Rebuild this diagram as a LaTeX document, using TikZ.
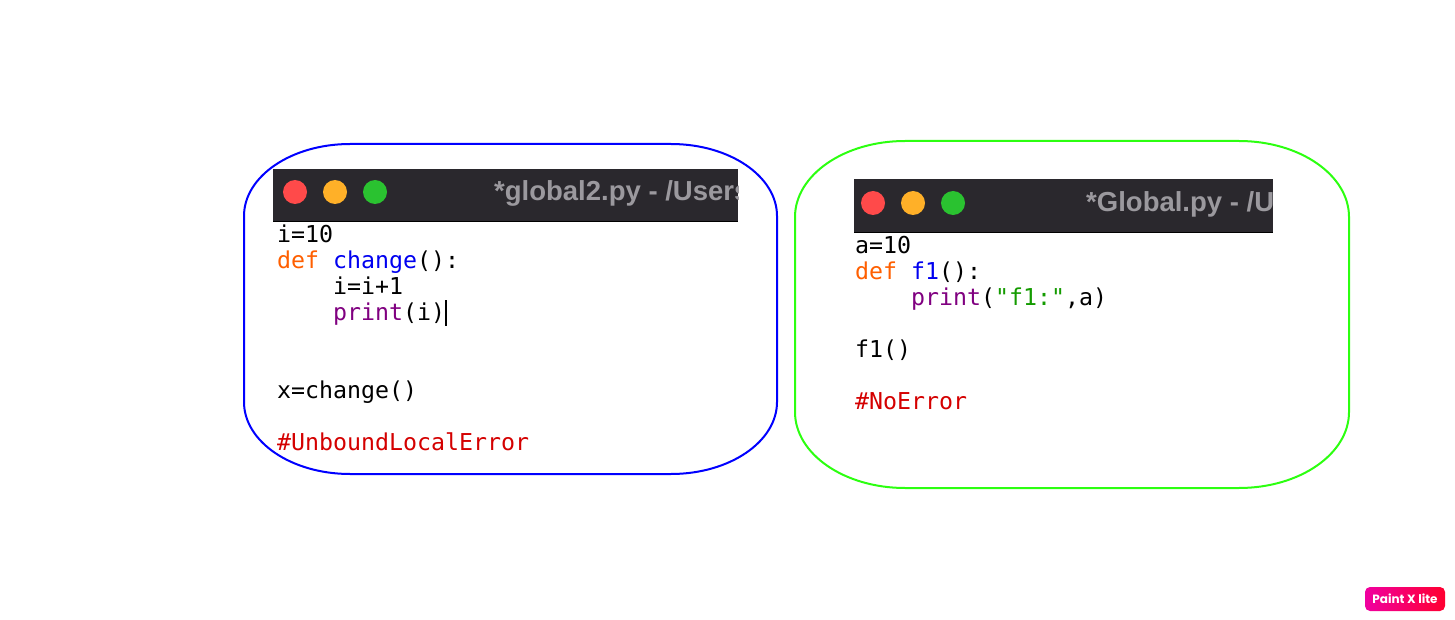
\documentclass[tikz,border=0pt]{standalone}
\usepackage{fontspec}
\setmainfont{Liberation Sans}
\setmonofont{DejaVu Sans Mono}
\newfontfamily\badgefont{Poppins}
\usepackage{xcolor}
\usetikzlibrary{calc}
\definecolor{barcol}{HTML}{2A282D}
\definecolor{titlecol}{HTML}{9B999E}
\definecolor{redbtn}{HTML}{FF4A4A}
\definecolor{yellowbtn}{HTML}{FFB028}
\definecolor{greenbtn}{HTML}{2AC230}
\definecolor{defcol}{HTML}{FF5F00}
\definecolor{funcol}{HTML}{0000F0}
\definecolor{printcol}{HTML}{800080}
\definecolor{strcol}{HTML}{149B00}
\definecolor{errcol}{HTML}{D40000}
\definecolor{limecol}{HTML}{2CFF10}
\definecolor{badgeleft}{HTML}{F000A0}
\definecolor{badgeright}{HTML}{FF0030}
\tikzset{
  outline/.style={line width=2pt, fill=none},
  title bar/.style={fill=barcol, draw=none, rectangle, inner sep=0pt, anchor=north west},
  button/.style={circle, minimum size=24pt, inner sep=0pt},
  title text/.style={font={\fontsize{27.5}{27.5}\selectfont\bfseries}, text=titlecol, anchor=base west, inner sep=0pt},
  code/.style={font={\ttfamily\fontsize{23.25}{26}\selectfont}, anchor=base west, inner sep=0pt},
  badge/.style={rectangle, rounded corners=5pt, inner sep=0pt, left color=badgeleft, right color=badgeright},
}
% title bar with its three buttons: name, x, y, width, height, text x, text, button x, button y
\newcommand{\titlebar}[9]{
    \node[title bar, minimum width=#4pt, minimum height=#5pt] (#1) at (#2,#3) {};
    \draw[black, line width=1pt] (#1.south west) -- (#1.south east);
    \foreach \s/\c in {0/redbtn,1/yellowbtn,2/greenbtn}{
        \node[button, fill=\c] (#1-\s) at ($(#1.north west)+({#8+\s*40},-#9)$) {};
    }
    \begin{scope}
    \clip (#1.north west) rectangle (#1.south east);
    \node[title text] (#1-title) at (#6,{#3-#5+20}) {#7};
    \end{scope}
}
% box with elliptical corners: left, top, right, bottom, x radius, y radius
\newcommand{\softbox}[7][]{
    \draw[outline,#1] ({#2+#6},#3) -- ({#4-#6},#3)
        arc[start angle=90, end angle=0, x radius=#6, y radius=#7]
        -- (#4,{#5+#7})
        arc[start angle=0, end angle=-90, x radius=#6, y radius=#7]
        -- ({#2+#6},#5)
        arc[start angle=270, end angle=180, x radius=#6, y radius=#7]
        -- (#2,{#3-#7})
        arc[start angle=180, end angle=90, x radius=#6, y radius=#7]
        -- cycle;
}
\begin{document}
\begin{tikzpicture}[x=1pt,y=1pt]
    \useasboundingbox (0,0) rectangle (1455,-620);

    % left window
    \softbox[draw=blue]{244}{-144}{777}{-474}{106}{72}
    \titlebar{leftbar}{273}{-169}{465}{52}{494}{*global2.py - /Users}{22}{23}
    \node[code] (l1) at (277,-243) {i=10};
    \node[code] (l2) at (277,-269) {\textcolor{defcol}{def} \textcolor{funcol}{change}():};
    \node[code] (l3) at (277,-294) {\phantom{def }i=i+1};
    \node[code] (l4) at (277,-320) {\phantom{def }\textcolor{printcol}{print}(i)};
    \node[code] (l5) at (277,-398) {x=change()};
    \node[code] (l6) at (277,-450) {\textcolor{errcol}{\#UnboundLocalError}};
    \coordinate (cursor top) at (445.5,-300);
    \coordinate (cursor bottom) at (445.5,-326);
    \draw[black, line width=2pt] (cursor top) -- (cursor bottom);

    % right window
    \softbox[draw=limecol]{795}{-141}{1349}{-488}{110}{76}
    \titlebar{rightbar}{854}{-179}{419}{53}{1086}{*Global.py - /Users}{19}{24}
    \node[code] (r1) at (855,-254) {a=10};
    \node[code] (r2) at (855,-279) {\textcolor{defcol}{def} \textcolor{funcol}{f1}():};
    \node[code] (r3) at (855,-305) {\phantom{def }\textcolor{printcol}{print}(\textcolor{strcol}{"f1:"},a)};
    \node[code] (r4) at (855,-357) {f1()};
    \node[code] (r5) at (855,-409) {\textcolor{errcol}{\#NoError}};

    % badge
    \node[badge, minimum width=80pt, minimum height=24pt, text=white, font={\badgefont\fontsize{12}{12}\selectfont\bfseries}] (paintx) at (1405,-599) {Paint X lite};
\end{tikzpicture}
\end{document}
